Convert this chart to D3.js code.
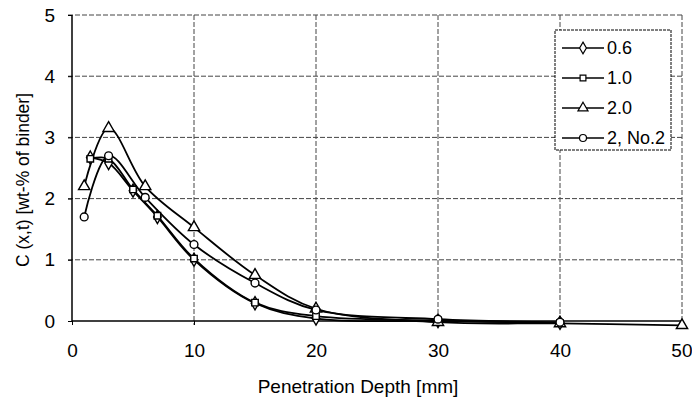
<!DOCTYPE html>
<html><head><meta charset="utf-8">
<script src="https://cdn.jsdelivr.net/npm/d3@7"></script>
<style>body{margin:0;background:#fff}svg{display:block}</style>
</head><body>
<script>
const seriesNames = ["0.6", "1.0", "2.0", "2, No.2"];
const depth06 = [1.5, 3, 5, 7, 10, 15, 20, 30, 40];
const conc06  = [2.67, 2.58, 2.13, 1.7, 1.0, 0.29, 0.04, 0.0, -0.03];
const depth10 = [1.5, 3, 5, 7, 10, 15, 20, 30, 40];
const conc10  = [2.65, 2.65, 2.15, 1.72, 1.02, 0.3, 0.08, 0.01, -0.03];
const depth20 = [1, 3, 6, 10, 15, 20, 30, 40, 50];
const conc20  = [2.2, 3.15, 2.2, 1.53, 0.75, 0.2, -0.02, -0.04, -0.07];
const depthN2 = [1, 3, 6, 10, 15, 20, 30, 40];
const concN2  = [1.7, 2.7, 2.02, 1.25, 0.62, 0.18, 0.03, -0.02];
const xTicks = [0, 10, 20, 30, 40, 50];
const yTicks = [0, 1, 2, 3, 4, 5];
const markers = ["diamond", "square", "triangle", "circle"];

const W = 692, H = 404;
const m = {l: 72, r: 10, t: 15, b: 83};
const svg = d3.select("body").append("svg").attr("width", W).attr("height", H);
const x = d3.scaleLinear().domain([0, 50]).range([m.l, 682]);
const y = d3.scaleLinear().domain([0, 5]).range([321, m.t]);
const font = "'Liberation Sans', Arial, sans-serif";

// gridlines
const g = svg.append("g");
g.selectAll(".hg").data(yTicks.filter(d => d > 0)).join("line")
  .attr("x1", m.l - 4).attr("x2", 682).attr("y1", d => y(d)).attr("y2", d => y(d))
  .attr("stroke", "#444").attr("stroke-width", 1).attr("stroke-dasharray", "5,2");
g.selectAll(".vg").data(xTicks.filter(d => d > 0)).join("line")
  .attr("y1", m.t).attr("y2", 325).attr("x1", d => x(d)).attr("x2", d => x(d))
  .attr("stroke", "#444").attr("stroke-width", 1).attr("stroke-dasharray", "5,2");

// axes
const xAxis = d3.axisBottom(x).tickValues(xTicks).tickFormat(d3.format("d")).tickSize(4).tickPadding(19);
const yAxis = d3.axisLeft(y).tickValues(yTicks).tickFormat(d3.format("d")).tickSize(4).tickPadding(13);
const xa = svg.append("g").attr("transform", "translate(0,321)").call(xAxis);
const ya = svg.append("g").attr("transform", `translate(${m.l},0)`).call(yAxis);
[xa, ya].forEach(a => {
  a.select(".domain").attr("stroke", "#000").attr("stroke-width", 1.5);
  a.selectAll("line").attr("stroke", "#000");
  a.selectAll("text").attr("font-family", font).attr("font-size", 19).attr("fill", "#000");
});
xa.selectAll(".tick text").filter(d => d === 50).attr("text-anchor", "end").attr("dx", "10");
xa.select(".domain").attr("d", `M${m.l},0H682`);
ya.select(".domain").attr("d", `M0,${y(0)}V${m.t}`);

svg.append("text").attr("x", 358).attr("y", 393).attr("text-anchor", "middle")
  .attr("font-family", font).attr("font-size", 19).text("Penetration Depth [mm]");
svg.append("text").attr("transform", "translate(29,180) rotate(-90)").attr("text-anchor", "middle")
  .attr("font-family", font).attr("font-size", 17.5).text("C (x,t) [wt-% of binder]");

// series
const allData = [
  [depth06, conc06], [depth10, conc10], [depth20, conc20], [depthN2, concN2]
].map(([xs, ys], i) => ({name: seriesNames[i], marker: markers[i], pts: xs.map((d, j) => [d, ys[j]])}));

const line = d3.line().x(d => x(d[0])).y(d => y(d[1])).curve(d3.curveCatmullRom.alpha(0.5));
const symMap = {diamond: d3.symbolDiamond, square: d3.symbolSquare, triangle: d3.symbolTriangle, circle: d3.symbolCircle};
const symSize = {diamond: 50, square: 42, triangle: 55, circle: 48};

allData.forEach(s => {
  svg.append("path").datum(s.pts).attr("d", line).attr("fill", "none")
    .attr("stroke", "#000").attr("stroke-width", 1.8);
});
allData.forEach(s => {
  svg.append("g").selectAll("path").data(s.pts).join("path")
    .attr("transform", d => `translate(${x(d[0])},${y(d[1])})`)
    .attr("d", d3.symbol().type(symMap[s.marker]).size(symSize[s.marker]))
    .attr("fill", "#fff").attr("stroke", "#000").attr("stroke-width", 1.4);
});

// legend
const lg = svg.append("g");
lg.append("rect").attr("x", 555).attr("y", 30).attr("width", 116).attr("height", 120)
  .attr("fill", "#fff").attr("stroke", "#000").attr("stroke-width", 1).attr("stroke-dasharray", "3,1");
allData.forEach((s, i) => {
  const ly = 48 + i * 30;
  lg.append("line").attr("x1", 562).attr("x2", 604).attr("y1", ly).attr("y2", ly)
    .attr("stroke", "#000").attr("stroke-width", 1.6);
  lg.append("path").attr("transform", `translate(583,${ly})`)
    .attr("d", d3.symbol().type(symMap[s.marker]).size(symSize[s.marker] * 0.8))
    .attr("fill", "#fff").attr("stroke", "#000").attr("stroke-width", 1.2);
  lg.append("text").attr("x", 607).attr("y", ly + 6).attr("font-family", font)
    .attr("font-size", 18).text(s.name);
});
</script>
</body></html>
